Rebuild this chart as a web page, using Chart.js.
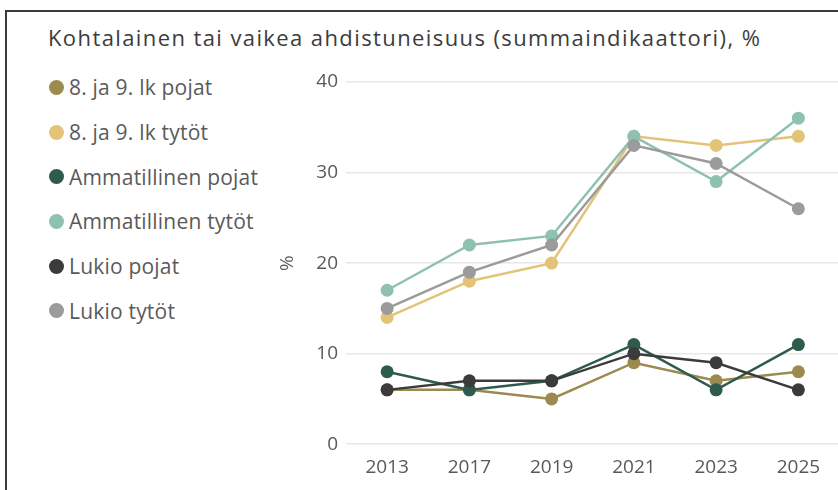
<!DOCTYPE html>
<html>
<head>
<meta charset="utf-8">
<script src="https://cdn.jsdelivr.net/npm/chart.js@4"></script>
<style>
  html, body { margin: 0; padding: 0; background: #fff; }
  body { width: 838px; height: 490px; position: relative; overflow: hidden; font-family: 'Open Sans', sans-serif; }
  #frame { position: absolute; left: 5px; top: 10px; width: 900px; height: 600px; border: 2px solid #3a3a3a; }
  #title { position: absolute; left: 48px; top: 25px; font-size: 22px; line-height: 24px; letter-spacing: 1.4px; color: #3c3c3c; white-space: nowrap; }
  #legend { position: absolute; left: 49px; top: 65px; }
  .item { height: 44.7px; display: flex; align-items: center; font-size: 21px; letter-spacing: 0.2px; color: #5a5a5a; white-space: nowrap; }
  .dot { width: 15px; height: 15px; border-radius: 50%; margin-right: 5px; }
  #wrap { position: absolute; left: 0; top: 0; width: 846px; height: 491px; }
</style>
</head>
<body>
<div id="frame"></div>
<div id="title">Kohtalainen tai vaikea ahdistuneisuus (summaindikaattori), %</div>
<div id="legend"></div>
<div id="wrap"><canvas id="lineChart"></canvas></div>
<script>
// ─── Data ─────────────────────────────────────────────────────────────────────
const YEARS = ['2013', '2017', '2019', '2021', '2023', '2025'];

const SERIES_NAMES = [
  '8. ja 9. lk pojat',
  '8. ja 9. lk tytöt',
  'Ammatillinen pojat',
  'Ammatillinen tytöt',
  'Lukio pojat',
  'Lukio tytöt'
];

const PERUS_POJAT  = [6, 6, 5, 9, 7, 8];
const PERUS_TYTOT  = [14, 18, 20, 34, 33, 34];
const AMM_POJAT    = [8, 6, 7, 11, 6, 11];
const AMM_TYTOT    = [17, 22, 23, 34, 29, 36];
const LUKIO_POJAT  = [6, 7, 7, 10, 9, 6];
const LUKIO_TYTOT  = [15, 19, 22, 33, 31, 26];

const SERIES_VALUES = [PERUS_POJAT, PERUS_TYTOT, AMM_POJAT, AMM_TYTOT, LUKIO_POJAT, LUKIO_TYTOT];

const SERIES_COLORS = ['#9c8a4e', '#e2c378', '#2e5b4e', '#8fc1b1', '#3b3b3b', '#9b9b9b'];

const Y_TICKS = [0, 10, 20, 30, 40];

// ─── Legend (HTML, left column) ──────────────────────────────────────────────
const legendEl = document.getElementById('legend');
SERIES_NAMES.forEach((name, i) => {
  const row = document.createElement('div');
  row.className = 'item';
  row.innerHTML = `<span class="dot" style="background:${SERIES_COLORS[i]}"></span><span>${name}</span>`;
  legendEl.appendChild(row);
});

// ─── Chart ───────────────────────────────────────────────────────────────────
const tickFont = { family: 'Open Sans, sans-serif', size: 19 };
const textColor = '#595959';

new Chart(document.getElementById('lineChart'), {
  type: 'line',
  data: {
    labels: YEARS,
    datasets: SERIES_NAMES.map((name, i) => ({
      label: name,
      data: SERIES_VALUES[i],
      borderColor: SERIES_COLORS[i],
      backgroundColor: SERIES_COLORS[i],
      pointBackgroundColor: SERIES_COLORS[i],
      pointBorderColor: SERIES_COLORS[i],
      borderWidth: 2.5,
      pointRadius: 6.5,
      pointBorderWidth: 0,
      tension: 0,
      order: SERIES_NAMES.length - i   // later series drawn on top
    }))
  },
  options: {
    responsive: true,
    maintainAspectRatio: false,
    animation: false,
    layout: { padding: { left: 270, right: 0, top: 82, bottom: 0 } },
    plugins: {
      legend: { display: false },
      title: { display: false },
      tooltip: { enabled: false }
    },
    scales: {
      x: {
        offset: true,
        grid: { display: false, drawTicks: false },
        border: { display: false },
        ticks: { color: textColor, font: tickFont, padding: 12, maxRotation: 0 }
      },
      y: {
        min: 0,
        max: 40,
        afterFit(scale) { scale.width = 76; },
        afterBuildTicks(scale) { scale.ticks = Y_TICKS.map(v => ({ value: v })); },
        grid: { color: '#e8e8e8', drawTicks: false, lineWidth: 1.5 },
        border: { display: false },
        ticks: { color: textColor, font: tickFont, padding: 8 },
        title: { display: true, text: '%', color: textColor, font: tickFont, padding: { top: 6, bottom: 0 } }
      }
    }
  }
});
</script>
</body>
</html>
